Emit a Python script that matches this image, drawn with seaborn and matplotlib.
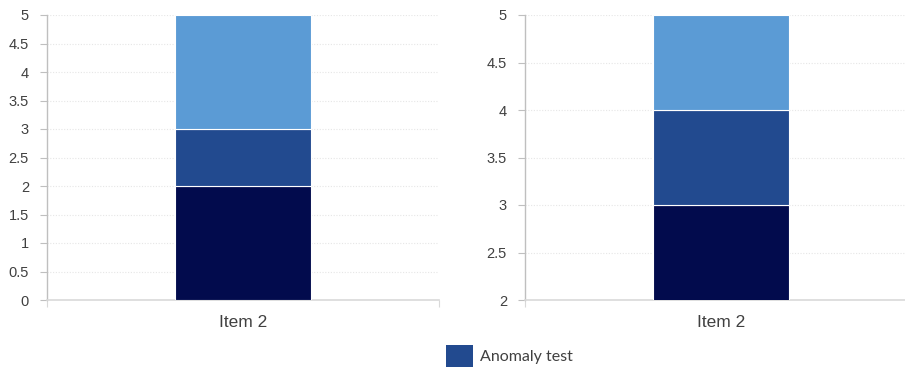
import matplotlib
matplotlib.use("Agg")
import matplotlib.pyplot as plt
from matplotlib.patches import Patch
import seaborn as sns
import pandas as pd
import numpy as np

categories = ["Item 2"]
series_names = ["Series 1", "Anomaly test", "Series 3"]
left_values = [[2], [1], [2]]
right_values = [[3], [1], [1]]
colors = ["#020B4D", "#224A8F", "#5B9BD5"]
left_ylim = (0, 5)
right_ylim = (2, 5)
yticks_left = [0, 0.5, 1, 1.5, 2, 2.5, 3, 3.5, 4, 4.5, 5]
yticks_right = [2, 2.5, 3, 3.5, 4, 4.5, 5]

sns.set_theme(style="white")
plt.rcParams['font.family'] = ['Liberation Sans', 'DejaVu Sans']

fig = plt.figure(figsize=(9.05, 3.67), dpi=100)
W, H = 905, 367
ax_l = fig.add_axes([47 / W, 1 - 300 / H, 392 / W, 285 / H])
ax_r = fig.add_axes([525 / W, 1 - 300 / H, 392 / W, 285 / H])


def draw(ax, values, ylim, yticks):
    bottom = np.zeros(len(categories))
    for name, vals, col in zip(series_names, values, colors):
        df = pd.DataFrame({"cat": categories, "val": vals})
        sns.barplot(data=df, x="cat", y="val", ax=ax, color=col, width=0.347,
                    bottom=bottom, edgecolor="white", linewidth=0.8,
                    saturation=1, errorbar=None, zorder=3)
        bottom = bottom + np.array(vals)
    ax.set_xlim(-0.5, 0.5)
    ax.set_ylim(*ylim)
    ax.set_yticks(yticks)
    ax.set_yticklabels([f"{t:g}" for t in yticks])
    ax.set_xlabel("")
    ax.set_ylabel("")
    ax.grid(axis="y", color="#E6E6E6", linestyle=(0, (1, 1.5)), linewidth=0.8, zorder=0)
    ax.set_axisbelow(True)
    for s in ["top", "right"]:
        ax.spines[s].set_visible(False)
    ax.spines["left"].set_color("#BFBFBF")
    ax.spines["bottom"].set_color("#D9D9D9")
    ax.spines["left"].set_linewidth(1.0)
    ax.spines["bottom"].set_linewidth(1.2)
    ax.tick_params(axis="y", which="major", left=True, length=5, width=0.8,
                   color="#BFBFBF", labelsize=10.5, labelcolor="#404040", pad=8)
    ax.tick_params(axis="x", which="major", bottom=False, labelsize=12.5,
                   labelcolor="#404040", pad=5)
    ax.set_xticks([-0.5, 0.5], minor=True)
    ax.tick_params(axis="x", which="minor", bottom=True, length=5, width=0.8,
                   color="#D9D9D9")


draw(ax_l, left_values, left_ylim, yticks_left)
draw(ax_r, right_values, right_ylim, yticks_right)

handles = [Patch(facecolor=colors[1], edgecolor="none")]
fig.legend(handles, [series_names[1]], loc="center left",
           bbox_to_anchor=(446 / W, 1 - 356 / H), frameon=False,
           borderpad=0, borderaxespad=0, handlelength=1.7, handleheight=1.7,
           handletextpad=0.42, prop={"family": "Lato", "size": 11.5},
           labelcolor="#404040")

fig.savefig("out.png", dpi=100)
